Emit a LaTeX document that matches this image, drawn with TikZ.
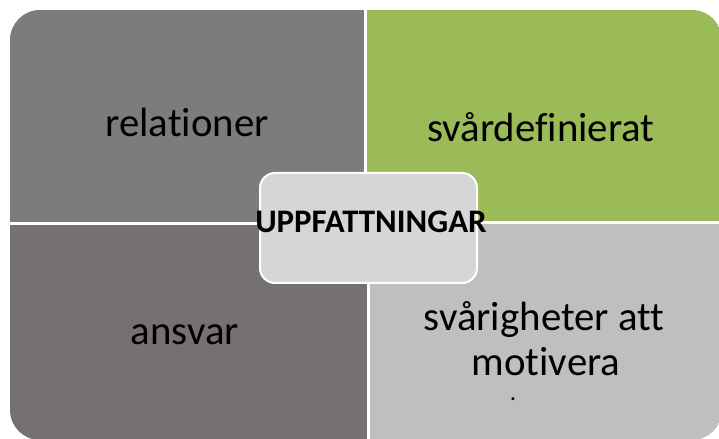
\documentclass[tikz,border=0pt]{standalone}
\usepackage{fontspec}
\setmainfont{Carlito}[Ligatures=NoCommon]
\usepackage{tikz}
\usetikzlibrary{positioning}
\definecolor{quadgrey}{RGB}{124,124,124}
\definecolor{quadgreen}{RGB}{155,187,89}
\definecolor{quadtaupe}{RGB}{118,113,113}
\definecolor{quadsilver}{RGB}{191,191,191}
\definecolor{hubgrey}{RGB}{214,214,214}

\begin{document}
\begin{tikzpicture}[x=1bp,y=-1bp,
    quad/.style={anchor=north west,inner sep=0pt,outer sep=0pt},
    lbl/.style={anchor=base,inner sep=0pt,font=\fontsize{41}{44}\selectfont},
    hub/.style={draw=white,line width=2bp,fill=hubgrey,rounded corners=15bp,
      minimum width=217bp,minimum height=110bp,inner sep=0pt}]
  \useasboundingbox (0,0) rectangle (719,439);
  \begin{scope}
    \clip[rounded corners=30bp] (10,10) rectangle (722,440);
    \foreach \nm/\x/\y/\w/\h/\c in {tl/10/10/354bp/212bp/quadgrey,
        tr/367/10/355bp/211bp/quadgreen,
        bl/10/225/357bp/215bp/quadtaupe,
        br/370/224/352bp/216bp/quadsilver}
      \node[quad,fill=\c,minimum width=\w,minimum height=\h] (\nm) at (\x,\y) {};
  \end{scope}
  \node[lbl] (relationer) at (187,137) {relationer};
  \node[lbl] (svardef) at (541,142) {svårdefinierat};
  \node[lbl] (ansvar) at (185,345) {ansvar};
  \node[lbl] (svarighet) at (544,331) {svårigheter att};
  \node[lbl] (motivera) at (546,375) {motivera};
  \node[lbl,font=\fontsize{20}{22}\selectfont\bfseries] (punkt) at (513,400) {.};
  % center box
  \node[hub] (hub) at (368.5,228) {};
  \node[anchor=base,inner sep=0pt,font=\fontsize{33}{36}\selectfont\bfseries] (uppf) at (371,233) {UPPFATTNINGAR};
\end{tikzpicture}
\end{document}
